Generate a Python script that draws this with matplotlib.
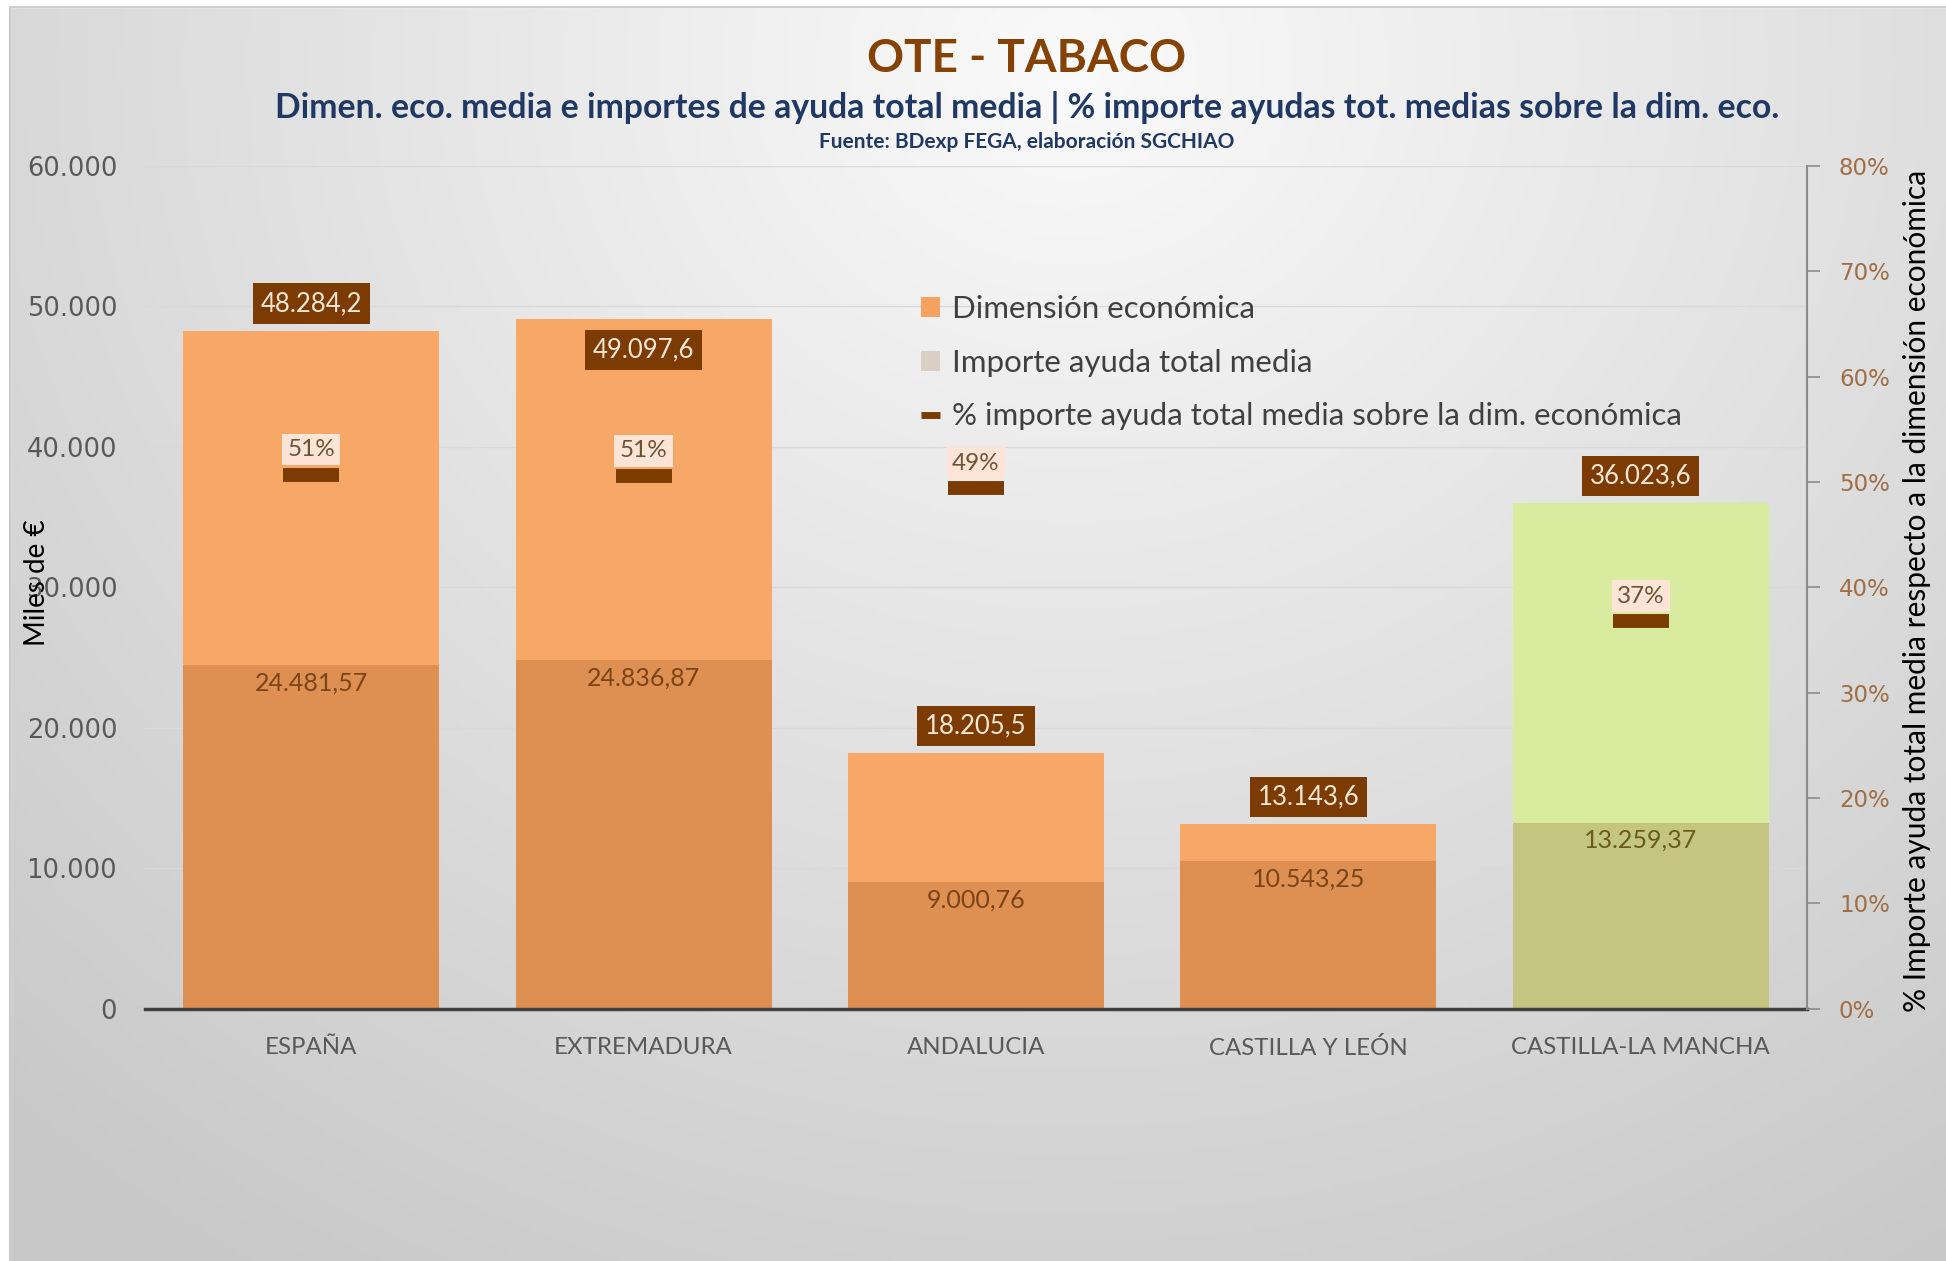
import numpy as np
import matplotlib
matplotlib.use('Agg')
import matplotlib.pyplot as plt
from matplotlib.patches import Patch, Rectangle
from matplotlib.lines import Line2D
from matplotlib.ticker import FuncFormatter

# datos
categorias = ['ESPAÑA', 'EXTREMADURA', 'ANDALUCIA', 'CASTILLA Y LEÓN', 'CASTILLA-LA MANCHA']
dim_eco = [48284.2, 49097.6, 18205.5, 13143.6, 36023.6]
importe = [24481.57, 24836.87, 9000.76, 10543.25, 13259.37]
pct = [0.507, 0.506, 0.494, 0.802, 0.368]

# estilo
col_dim = ['#F7A867'] * 4 + ['#D8EB9E']
col_imp = ['#DE8F52'] * 4 + ['#C5C582']
col_imp_txt = ['#7A4418'] * 4 + ['#6A5A1E']
etiqueta_dentro = [False, True, False, False, False]
marron = '#7B3B02'

W, H = 1946, 1261
fig = plt.figure(figsize=(W / 100, H / 100), dpi=100)

# fondo degradado
bg = fig.add_axes([0, 0, 1, 1], zorder=-5)
yy, xx = np.mgrid[0:1:300j, 0:1:460j]
r = np.sqrt(((xx - 0.55) / 0.75) ** 2 + ((yy - 0.05) / 1.05) ** 2)
g = np.clip(250 - 46 * r, 200, 250) / 255.0
bg.imshow(np.dstack([g, g, g]), extent=[0, 1, 0, 1], origin='upper', aspect='auto')
bg.add_patch(Rectangle((0, 0), 10 / W, 1, color='white', transform=bg.transAxes))
bg.add_patch(Rectangle((0, 1 - 7 / H), 1, 7 / H, color='white', transform=bg.transAxes))
bg.plot([10 / W, 10 / W], [0, 1 - 7 / H], color='#C8C8C8', lw=1.5)
bg.plot([10 / W, 1], [1 - 7 / H, 1 - 7 / H], color='#D0D0D0', lw=1.5)
bg.set_xlim(0, 1)
bg.set_ylim(0, 1)
bg.axis('off')

ax = fig.add_axes([145 / W, 0.2, 1662 / W, 0.6684])
ax.patch.set_alpha(0)
x = np.arange(len(categorias))
bw = 0.77

ax.bar(x, dim_eco, width=bw, color=col_dim, zorder=2)
ax.bar(x, importe, width=bw, color=col_imp, zorder=3)
ax.set_xlim(-0.5, len(categorias) - 0.5)
ax.set_ylim(0, 60000)
ax.set_yticks(np.arange(0, 60001, 10000))
ax.yaxis.set_major_formatter(FuncFormatter(lambda v, p: f'{v:,.0f}'.replace(',', '.')))
ax.grid(axis='y', color='#D9D9D9', lw=1, zorder=0)
ax.set_axisbelow(True)
for s in ['left', 'top', 'right']:
    ax.spines[s].set_visible(False)
ax.spines['bottom'].set_color('#404040')
ax.spines['bottom'].set_linewidth(2.5)
ax.spines['bottom'].set_zorder(5)
ax.tick_params(axis='y', length=0, labelsize=18.5, labelcolor='#595959', pad=20)
ax.tick_params(axis='x', length=0, pad=20)
ax.set_xticks(x)
ax.set_xticklabels(categorias, fontsize=17.3, color='#595959', family='Lato')

def fmt(v, d):
    s = f'{v:,.{d}f}'
    return s.replace(',', 'X').replace('.', ',').replace('X', '.')

for i in range(len(x)):
    off = -31 if etiqueta_dentro[i] else 27
    ax.annotate(fmt(dim_eco[i], 1), (x[i], dim_eco[i]), xytext=(0, off * 0.72),
                textcoords='offset points', ha='center', va='center', fontsize=18.5,
                family='Lato', color='#F6E7D5', zorder=6,
                bbox=dict(boxstyle='square,pad=0.3', fc='#7B3B02', ec='none'))
    ax.annotate(fmt(importe[i], 2), (x[i], importe[i]), xytext=(0, -18 * 0.72),
                textcoords='offset points', ha='center', va='center', fontsize=18,
                family='Lato', color=col_imp_txt[i], zorder=6)

fig.text(37 / W, 1 - 583 / H, 'Miles de €', rotation=90,
         ha='center', va='center', fontsize=20, family='Lato', color='black')

# eje secundario
ax2 = ax.twinx()
ax2.set_ylim(0, 0.8)
ax2.set_yticks(np.arange(0, 0.81, 0.1))
ax2.yaxis.set_major_formatter(FuncFormatter(lambda v, p: f'{v * 100:.0f}%'))
for s in ['left', 'top', 'bottom']:
    ax2.spines[s].set_visible(False)
ax2.spines['right'].set_color('#8C8C8C')
ax2.spines['right'].set_linewidth(1.5)
ax2.tick_params(axis='y', length=9, width=1.2, color='#8C8C8C', labelsize=16.5,
                labelcolor='#A06E44', pad=14)
fig.text(1917 / W, 1 - 591 / H,
         '% Importe ayuda total media respecto a la dimensión económica',
         rotation=90, ha='center', va='center', fontsize=21.5, family='Lato', color='black')

pv = [p if p <= 0.8 else np.nan for p in pct]
ax2.plot(x, pv, ls='none', marker='_', ms=40, mew=10, color=marron, zorder=7)
for i, p in enumerate(pv):
    if np.isnan(p):
        continue
    ax2.annotate(f'{p * 100:.0f}%', (x[i], p), xytext=(0, 25 * 0.72),
                 textcoords='offset points', ha='center', va='center', fontsize=17.5,
                 family='Lato', color='#6E5236', zorder=8,
                 bbox=dict(boxstyle='square,pad=0.22', fc='#FCE4D6', ec='none'))

# leyenda
handles = [Patch(fc='#F4A460', ec='none'), Patch(fc='#D9CFC5', ec='none'),
           Line2D([], [], color=marron, lw=5, solid_capstyle='butt')]
labels = ['Dimensión económica', 'Importe ayuda total media',
          '% importe ayuda total media sobre la dim. económica']
fig.legend(handles, labels, loc='upper left', bbox_to_anchor=(893 / W, 1 - 267 / H),
           frameon=False, prop={'family': 'Lato', 'size': 22.5},
           handlelength=0.6, handleheight=0.6, handletextpad=0.4, labelspacing=0.82,
           labelcolor='#404040')

# títulos
fig.text(1027 / W, 1 - 59 / H, 'OTE - TABACO', ha='center', va='center',
         fontsize=33, fontweight='bold', family='Lato', color='#844204')
fig.text(1027 / W, 1 - 107 / H,
         'Dimen. eco. media e importes de ayuda total media | % importe ayudas tot. medias sobre la dim. eco.',
         ha='center', va='center', fontsize=24.3, fontweight='bold', family='Lato', color='#1F3864')
fig.text(1027 / W, 1 - 142 / H, 'Fuente: BDexp FEGA, elaboración SGCHIAO', ha='center',
         va='center', fontsize=15, fontweight='bold', family='Lato', color='#1F3864')

fig.savefig('out.png', dpi=100)
